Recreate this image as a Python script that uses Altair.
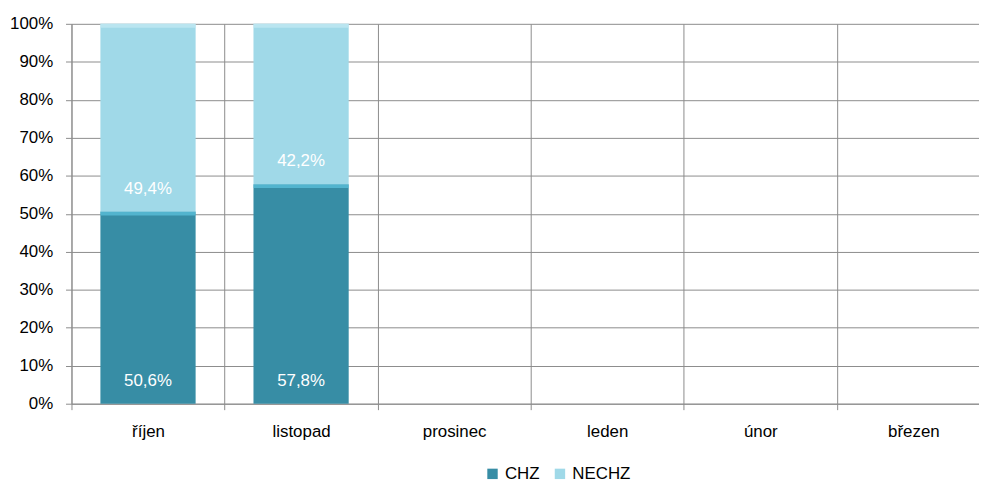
import altair as alt
import pandas as pd

months = ["říjen", "listopad", "prosinec", "leden", "únor", "březen"]
series = ["CHZ", "NECHZ"]
chz = [50.6, 57.8]
nechz = [49.4, 42.2]

rows = []
for i, m in enumerate(months[:len(chz)]):
    rows.append({"month": m, "series": "CHZ", "ord": 0, "value": chz[i]})
    rows.append({"month": m, "series": "NECHZ", "ord": 1, "value": nechz[i]})
df = pd.DataFrame(rows)

FONT = "Liberation Sans"
GRID = "#8c8c8c"
BARW = 96

base = alt.Chart(df).transform_stack(
    stack="value", groupby=["month"], as_=["y0", "y1"], sort=[alt.SortField("ord")]
).transform_calculate(
    label="replace(format(datum.value, '.1f'), '.', ',') + '%'"
)

xaxis = alt.Axis(
    title=None, labelAngle=0, tickBand="extent", grid=True, gridColor=GRID,
    tickColor=GRID, tickSize=6, labelPadding=14, labelFontSize=17, labelFont=FONT,
    labelColor="#000000", domainColor=GRID,
)
xscale = alt.Scale(domain=months, paddingInner=0, paddingOuter=0, range=[0, 926])
yaxis = alt.Axis(
    title=None, values=list(range(0, 101, 10)), labelExpr="datum.value + '%'",
    grid=True, gridColor=GRID, tickColor=GRID, tickSize=6, labelPadding=13,
    labelFontSize=17, labelFont=FONT, labelColor="#000000", domainColor=GRID,
    labelOverlap=False,
)
yscale = alt.Scale(domain=[0, 100])


def X():
    return alt.X("month:N", scale=xscale, sort=months, axis=xaxis)


def Y(f):
    return alt.Y(f, scale=yscale, axis=yaxis)


bars = base.mark_bar(width=BARW).encode(
    x=X(),
    y=Y("y0:Q"),
    y2="y1:Q",
    color=alt.Color(
        "series:N",
        scale=alt.Scale(domain=series, range=["#378da5", "#a0d9e8"]),
        legend=alt.Legend(
            title=None, orient="none", legendX=416, legendY=445, direction="horizontal",
            symbolType="square", symbolSize=110, symbolStrokeWidth=0, labelFontSize=17,
            labelFont=FONT, labelColor="#000000", columnPadding=12, labelOffset=4, padding=0,
        ),
    ),
)

bevel = base.mark_tick(thickness=4, size=BARW, yOffset=2).encode(
    x=X(),
    y=Y("y1:Q"),
    color=alt.condition("datum.series == 'CHZ'", alt.value("#5ec4df"), alt.value("#c4eaf4")),
)

labels = base.mark_text(color="white", fontSize=17, font=FONT, dy=-23).encode(
    x=X(),
    y=Y("y0:Q"),
    text="label:N",
)

chart = alt.layer(bars, bevel, labels).properties(
    width=915, height=383,
    autosize=alt.AutoSizeParams(type="none"),
    padding={"left": 64, "top": 14, "right": 0, "bottom": 78},
).configure_view(strokeWidth=0)

chart.save("out.html", embed_options={"renderer": "svg", "actions": False})
